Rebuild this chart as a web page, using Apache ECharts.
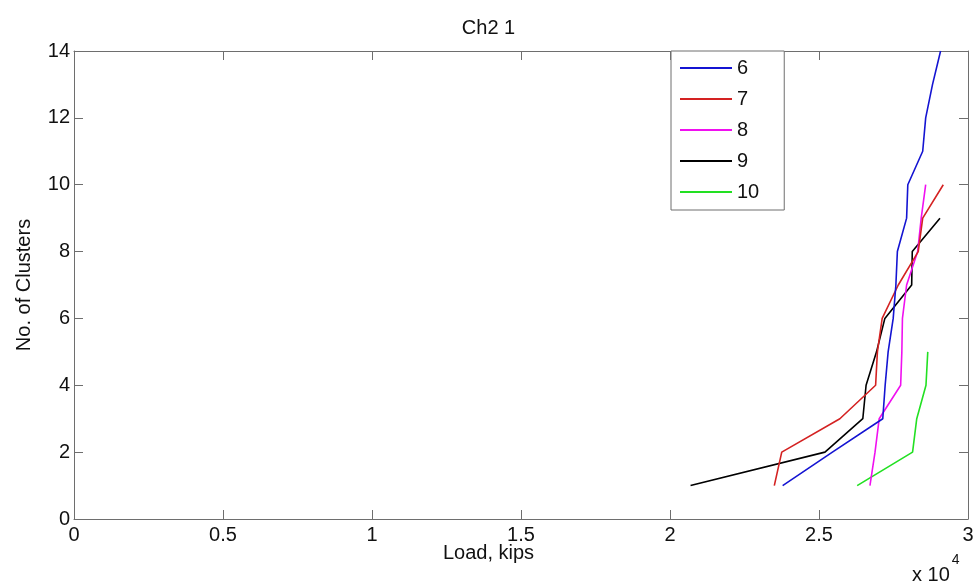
<!DOCTYPE html>
<html>
<head>
<meta charset="utf-8">
<title>Ch2 1</title>
<script src="https://cdn.jsdelivr.net/npm/echarts@6/dist/echarts.min.js"></script>
<style>
  html, body { margin: 0; padding: 0; background: #fff; }
  #chart { width: 977px; height: 588px; }
</style>
</head>
<body>
<div id="chart"></div>
<script>
// Load (kips) at which each number of clusters is reached, per series
const seriesNames = ['6', '7', '8', '9', '10'];
const clusters6 = [1, 2, 3, 4, 5, 6, 7, 8, 9, 10, 11, 12, 13, 14];
const load6 = [23780, 25450, 27140, 27220, 27320, 27490, 27580, 27630, 27940, 27980, 28480, 28580, 28810, 29080];
const clusters7 = [1, 2, 3, 4, 5, 6, 7, 8, 9, 10];
const load7 = [23500, 23750, 25700, 26900, 26960, 27120, 27660, 28330, 28480, 29170];
const clusters8 = [1, 2, 3, 4, 5, 6, 7, 8, 9, 10];
const load8 = [26710, 26880, 27020, 27740, 27780, 27800, 27940, 28310, 28430, 28580];
const clusters9 = [1, 2, 3, 4, 5, 6, 7, 8, 9];
const load9 = [20690, 25200, 26470, 26580, 26930, 27210, 28110, 28130, 29060];
const clusters10 = [1, 2, 3, 4, 5];
const load10 = [26280, 28140, 28280, 28590, 28650];
const xTicks = [0, 5000, 10000, 15000, 20000, 25000, 30000];
const yTicks = [0, 2, 4, 6, 8, 10, 12, 14];

const colors = ['#1414d2', '#d42222', '#f010f0', '#000000', '#22e022'];
const pairs = [
  [clusters6, load6], [clusters7, load7], [clusters8, load8],
  [clusters9, load9], [clusters10, load10]
];

const FONT = 'Liberation Sans, Arial, sans-serif';
const FRAME = '#6e6e6e';

function xAxisDef(pos, showLabels) {
  return {
    type: 'value', position: pos,
    min: xTicks[0], max: xTicks[xTicks.length - 1], interval: xTicks[1] - xTicks[0],
    axisLine: { show: true, onZero: false, lineStyle: { color: FRAME, width: 1 } },
    axisTick: { show: true, inside: true, length: 9, lineStyle: { color: FRAME } },
    splitLine: { show: false },
    axisLabel: {
      show: showLabels, margin: 6, color: '#111', fontFamily: FONT, fontSize: 20,
      formatter: v => String(v / 10000)
    }
  };
}
function yAxisDef(pos, showLabels) {
  return {
    type: 'value', position: pos,
    min: yTicks[0], max: yTicks[yTicks.length - 1], interval: yTicks[1] - yTicks[0],
    axisLine: { show: true, onZero: false, lineStyle: { color: FRAME, width: 1 } },
    axisTick: { show: true, inside: true, length: 9, lineStyle: { color: FRAME } },
    splitLine: { show: false },
    axisLabel: { show: showLabels, margin: 4, color: '#111', fontFamily: FONT, fontSize: 20 }
  };
}

const chart = echarts.init(document.getElementById('chart'), null, { renderer: 'canvas' });
chart.setOption({
  backgroundColor: '#fff',
  animation: false,
  title: {
    text: 'Ch2 1', left: 'center', top: 13,
    textStyle: { fontFamily: FONT, fontSize: 20, fontWeight: 'normal', color: '#111' }
  },
  grid: { left: 74, right: 9, top: 51, bottom: 69, containLabel: false },
  xAxis: [xAxisDef('bottom', true), xAxisDef('top', false)],
  yAxis: [yAxisDef('left', true), yAxisDef('right', false)],
  legend: {
    orient: 'vertical', left: 671, top: 51,
    data: seriesNames,
    icon: 'rect', itemWidth: 52, itemHeight: 2, itemGap: 11,
    padding: [7, 25, 8, 9],
    backgroundColor: '#fff', borderColor: FRAME, borderWidth: 1,
    textStyle: { fontFamily: FONT, fontSize: 20, color: '#111' }
  },
  graphic: [
    {
      type: 'text', left: 'center', top: 543,
      style: { text: 'Load, kips', font: '20px ' + FONT, fill: '#111' }
    },
    {
      type: 'text', x: 24, y: 285,
      rotation: Math.PI / 2,
      style: { text: 'No. of Clusters', font: '20px ' + FONT, fill: '#111', align: 'center', verticalAlign: 'middle' }
    },
    {
      type: 'text', x: 912, y: 553,
      style: {
        text: '{b|x 10}{s|4}',
        rich: {
          b: { font: '20px ' + FONT, fill: '#111', padding: [12, 0, 0, 0] },
          s: { font: '14px ' + FONT, fill: '#111', verticalAlign: 'top', padding: [0, 0, 8, 2] }
        }
      }
    }
  ],
  series: seriesNames.map((name, i) => ({
    name: name, type: 'line', xAxisIndex: 0, yAxisIndex: 0,
    data: pairs[i][1].map((x, k) => [x, pairs[i][0][k]]),
    showSymbol: false, symbol: 'none',
    lineStyle: { color: colors[i], width: 1.6 },
    itemStyle: { color: colors[i] },
    z: 2 + (seriesNames.length - i)
  }))
});
</script>
</body>
</html>
